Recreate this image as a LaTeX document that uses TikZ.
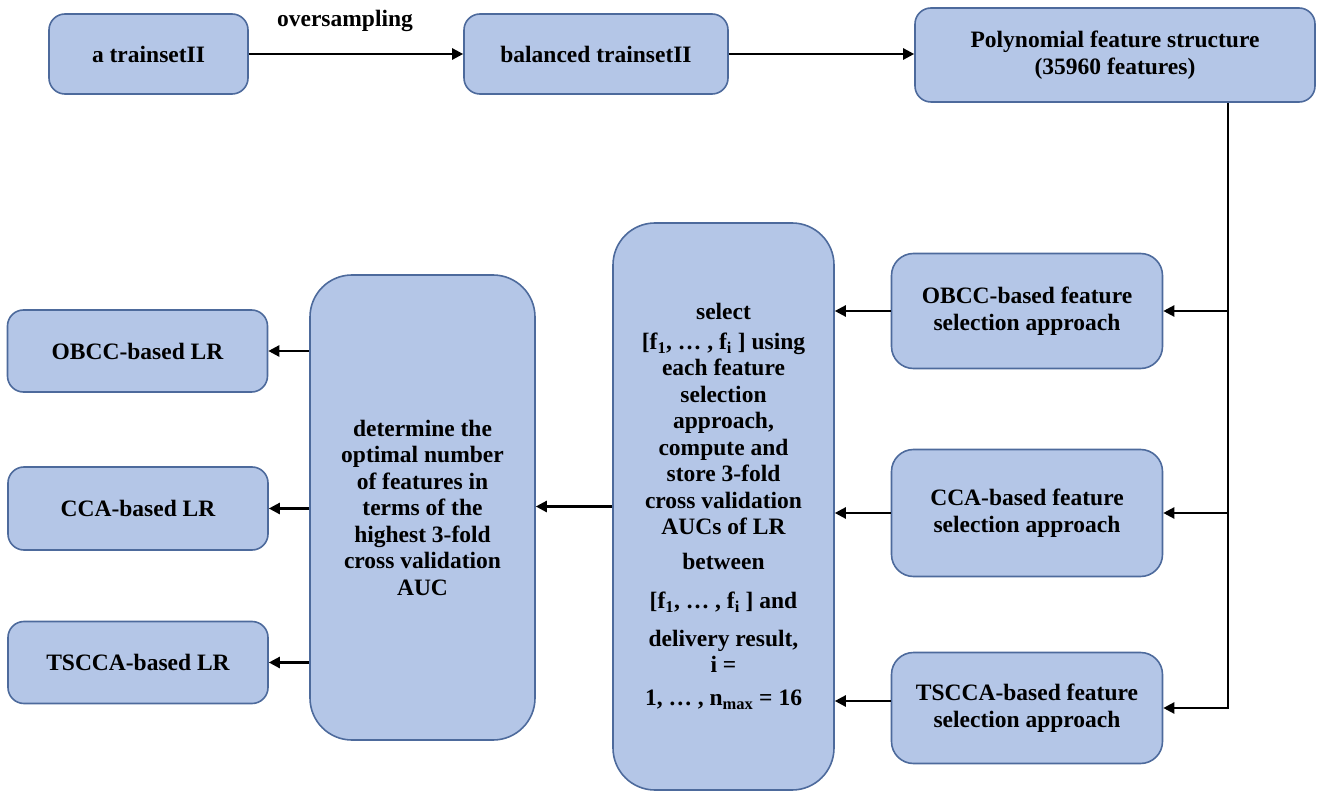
\documentclass[tikz,border=0pt]{standalone}
\usepackage{fontspec}
\setmainfont{Liberation Serif}
\usetikzlibrary{arrows.meta}

\definecolor{boxfill}{HTML}{B4C6E7}
\definecolor{boxline}{HTML}{4D6A9C}

\tikzset{
  box/.style={draw=boxline, fill=boxfill, line width=1.6pt, rounded corners=16pt,
              align=center, inner sep=0pt,
              font=\bfseries\fontsize{23.5}{26.5}\selectfont},
  bigbox/.style={box, rounded corners=42pt},
  link/.style={draw=black, line width=2.4pt},
  arr/.style={link, -{Triangle[length=11pt,width=11pt]}},
  lbl/.style={font=\bfseries\fontsize{23.5}{26.5}\selectfont, inner sep=0pt}
}

\begin{document}
\begin{tikzpicture}[x=1pt, y=-1pt]
\useasboundingbox (0,0) rectangle (1323,794);

% top row
\node[box, minimum width=199pt, minimum height=80pt] (train) at (148.5,54) {a trainsetII};
\node[box, minimum width=264pt, minimum height=80pt] (bal) at (596,54) {balanced trainsetII};
\node[box, minimum width=400pt, minimum height=94pt] (poly) at (1115,55)
  {Polynomial feature structure\\(35960 features)};

% feature selection approaches
\node[box, minimum width=271pt, minimum height=115pt, rounded corners=22pt] (fs1) at (1027,311)
  {OBCC-based feature\\selection approach};
\node[box, minimum width=271pt, minimum height=127pt, rounded corners=22pt] (fs2) at (1027,513)
  {CCA-based feature\\selection approach};
\node[box, minimum width=271pt, minimum height=111pt, rounded corners=22pt] (fs3) at (1027,708)
  {TSCCA-based feature\\selection approach};

% selection / evaluation step
\node[bigbox, minimum width=221pt, minimum height=567pt] (sel) at (723.5,506.5)
  {select\\[3pt]
   [f\textsubscript{1}, … , f\textsubscript{i} ] using\\
   each feature\\
   selection\\
   approach,\\
   compute and\\
   store 3-fold\\
   cross validation\\
   AUCs of LR\\[8pt]
   between\\[13pt]
   [f\textsubscript{1}, … , f\textsubscript{i} ] and\\[11pt]
   delivery result,\\
   i =\\[6pt]
   1, … , n\textsubscript{max} = 16};

% choice of the optimal number of features
\node[bigbox, minimum width=225pt, minimum height=465pt] (det) at (422.5,507.5)
  {determine the\\
   optimal number\\
   of features in\\
   terms of the\\
   highest 3-fold\\
   cross validation\\
   AUC};

% resulting classifiers
\node[box, minimum width=260pt, minimum height=82pt] (lr1) at (137.5,351) {OBCC-based LR};
\node[box, minimum width=260pt, minimum height=83pt] (lr2) at (138,508.5) {CCA-based LR};
\node[box, minimum width=260pt, minimum height=82pt] (lr3) at (138,662.5) {TSCCA-based LR};

% top row connectors
\draw[arr] (train.east) -- (bal.west);
\node[lbl] (os) at (345,21) {oversampling};
\draw[arr] (bal.east) -- (bal.east -| poly.west);

% distribution bus from the polynomial features
\coordinate (bus) at (1228,0);
\draw[arr] (poly.south -| bus) |- (fs3.east);
\draw[arr] (bus |- fs1.east) -- (fs1.east);
\draw[arr] (bus |- fs2.east) -- (fs2.east);

% approaches into the selection step
\draw[arr] (fs1.west) -- (fs1.west -| sel.east);
\draw[arr] (fs2.west) -- (fs2.west -| sel.east);
\draw[arr] ([yshift=7pt]fs3.west) -- ([yshift=7pt]fs3.west -| sel.east);

% selection step into the decision step
\draw[arr] (sel.west) -- (sel.west -| det.east);

% decision step to the classifiers
\draw[arr] (det.west |- lr1.east) -- (lr1.east);
\draw[arr] (det.west |- lr2.east) -- (lr2.east);
\draw[arr] (det.west |- lr3.east) -- (lr3.east);
\end{tikzpicture}
\end{document}
